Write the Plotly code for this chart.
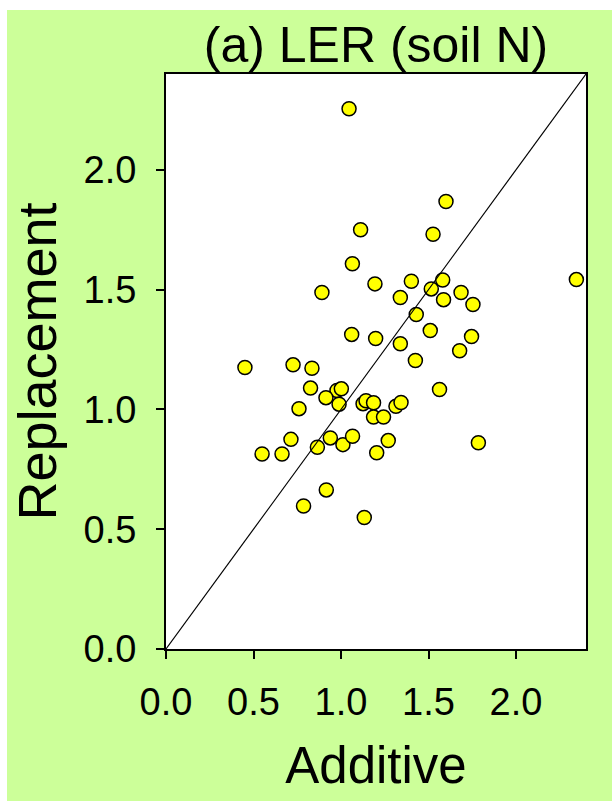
import plotly.graph_objects as go

# Data (Additive vs Replacement LER, soil N)
additive = [1.046, 1.600, 1.112, 1.526, 1.065, 2.345, 0.891, 1.194, 1.402, 1.581,
            1.516, 1.686, 1.339, 1.586, 1.754, 1.430, 1.061, 1.198, 1.510, 1.339,
            1.746, 1.678, 1.425, 0.451, 0.726, 0.834, 0.826, 0.977, 1.002, 0.914,
            0.989, 1.563, 1.126, 1.143, 1.186, 1.314, 1.343, 1.186, 1.243, 0.760,
            0.714, 0.549, 0.663, 0.865, 0.939, 1.011, 1.066, 1.270, 1.204, 1.785,
            0.916, 0.786, 1.133]
replacement = [2.255, 1.868, 1.750, 1.731, 1.608, 1.542, 1.488, 1.524, 1.535, 1.540,
               1.503, 1.488, 1.467, 1.458, 1.438, 1.396, 1.313, 1.296, 1.329, 1.274,
               1.304, 1.245, 1.204, 1.175, 1.186, 1.172, 1.089, 1.079, 1.086, 1.049,
               1.022, 1.083, 1.024, 1.036, 1.028, 1.013, 1.029, 0.968, 0.968, 1.003,
               0.875, 0.814, 0.814, 0.842, 0.881, 0.853, 0.888, 0.870, 0.819, 0.861,
               0.664, 0.597, 0.549]
one_to_one = [0.0, 2.4]
tick_vals = [0.0, 0.5, 1.0, 1.5, 2.0]
tick_text = ["0.0", "0.5", "1.0", "1.5", "2.0"]

FONT = "Liberation Sans, Arial, sans-serif"
GREEN = "#CCFF99"

W, H = 612, 801
L, R, T, B = 166, 26, 74, 152
pw, ph = W - L - R, H - T - B

fig = go.Figure()
fig.add_trace(go.Scatter(
    x=additive, y=replacement, mode="markers",
    marker=dict(size=14, color="#FFFF00", line=dict(color="black", width=1.5)),
    showlegend=False, hoverinfo="x+y"))
fig.add_trace(go.Scatter(
    x=one_to_one, y=one_to_one, mode="lines",
    line=dict(color="black", width=1.1), showlegend=False, hoverinfo="skip"))

# white strips at top and left (outside the green panel)
def px_x(p):
    return (p - L) / pw

def px_y(p):
    return (H - B - p) / ph

fig.add_shape(type="rect", xref="paper", yref="paper", layer="below",
              x0=px_x(-5), x1=px_x(W + 5), y0=px_y(10), y1=px_y(-5),
              fillcolor="white", line=dict(width=0))
fig.add_shape(type="rect", xref="paper", yref="paper", layer="below",
              x0=px_x(-5), x1=px_x(7), y0=px_y(H + 5), y1=px_y(-5),
              fillcolor="white", line=dict(width=0))

axis_common = dict(
    range=[0, 2.4], tickvals=tick_vals, ticktext=tick_text,
    showgrid=False, zeroline=False, showline=True, linecolor="black", linewidth=2,
    mirror=True, ticks="outside", ticklen=8, tickwidth=2, tickcolor="black",
    tickfont=dict(family=FONT, size=38, color="black"),
)

fig.update_layout(
    width=W, height=H, autosize=False,
    margin=dict(l=L, r=R, t=T, b=B, pad=0),
    paper_bgcolor=GREEN, plot_bgcolor="white",
    title=dict(text="(a) LER (soil N)", font=dict(family=FONT, size=50, color="black"),
               x=0.5, xref="paper", xanchor="center",
               y=1 - 62 / H, yref="container", yanchor="bottom"),
    xaxis=dict(**axis_common, ticklabelstandoff=10,
               title=dict(text="Additive", font=dict(family=FONT, size=51, color="black"),
                          standoff=26)),
    yaxis=dict(**axis_common, ticklabelstandoff=12,
               title=dict(text="Replacement", font=dict(family=FONT, size=54, color="black"),
                          standoff=10)),
)

fig.write_html("out.html")
